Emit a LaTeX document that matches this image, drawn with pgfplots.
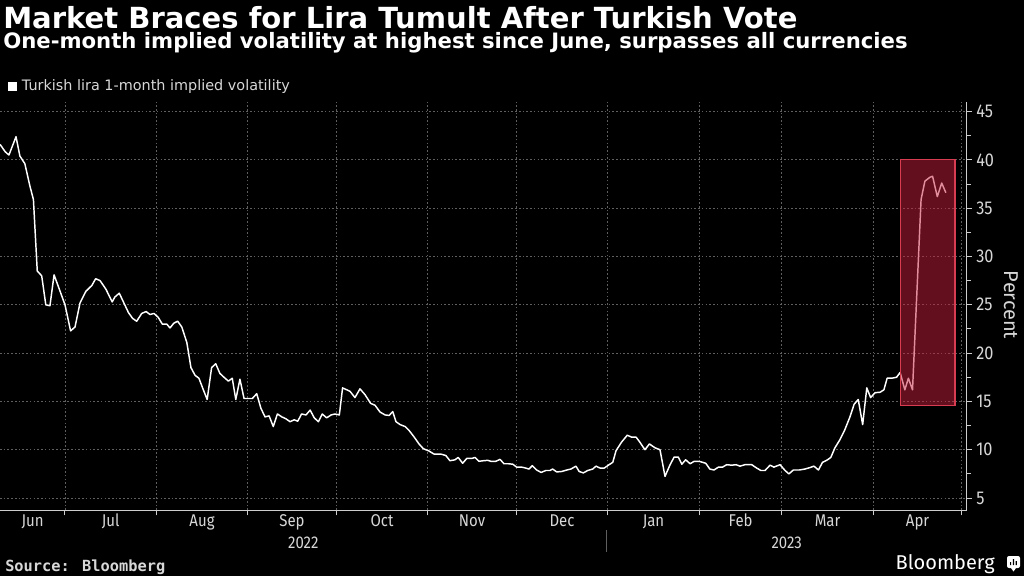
\documentclass[border=0pt]{standalone}
\usepackage{fontspec}
\setmainfont{Fira Sans}
\newfontfamily\monofam{DejaVu Sans Mono}
\newfontfamily\dvs{DejaVu Sans}
\newfontfamily\condfont{Fira Sans}[FakeStretch=0.88]
\usepackage{pgfplots}
\usepackage{pgfplotstable}
\pgfplotsset{compat=1.18}
\definecolor{txt}{RGB}{215,215,215}
\definecolor{gridc}{RGB}{95,95,95}
\definecolor{axc}{RGB}{205,205,205}
\definecolor{boxfill}{RGB}{200,30,60}
\definecolor{boxedge}{RGB}{215,60,80}

% x = days since 1 Jul 2022, v = 1-month implied volatility (%)
\pgfplotstableread{
d v
-22.0 41.6
-20.3 40.85
-19.0 40.5
-16.6 42.4
-15.3 40.4
-13.6 39.6
-11.9 37.3
-10.7 35.9
-9.4 28.5
-7.9 28.0
-6.5 25.0
-5.1 24.9
-3.7 28.1
-1.9 26.6
0.0 25.0
1.9 22.3
3.4 22.7
5.1 25.2
7.1 26.4
9.1 27.0
10.4 27.7
11.9 27.5
13.9 26.6
16.0 25.3
16.9 25.8
18.4 26.2
19.8 25.3
21.5 24.2
22.9 23.6
24.3 23.3
26.0 24.1
27.5 24.3
28.8 24.0
30.2 24.1
31.6 23.7
33.0 23.0
34.5 23.0
35.6 22.6
36.9 23.1
38.2 23.3
39.6 22.7
41.3 21.1
42.7 18.5
44.1 17.7
45.4 17.4
46.9 16.2
48.2 15.2
49.7 18.5
51.1 18.9
52.5 17.9
53.9 17.5
55.4 17.1
56.7 17.4
57.9 15.2
59.3 17.3
60.7 15.3
62.1 15.3
63.5 15.3
65.0 15.8
66.4 14.3
67.8 13.4
69.2 13.5
70.6 12.4
72.0 13.7
73.5 13.4
74.9 13.2
76.3 12.9
77.7 13.1
78.9 12.95
80.2 13.7
81.7 13.6
83.1 14.1
84.5 13.3
85.9 12.9
87.2 13.7
88.7 13.3
90.2 13.6
91.5 13.7
93.0 13.6
94.1 16.4
96.6 16.05
98.3 15.4
100.0 16.3
101.7 15.7
103.6 14.8
105.1 14.6
106.8 13.9
108.5 13.6
109.9 13.55
111.1 13.95
112.2 12.9
113.6 12.6
115.3 12.4
116.7 11.97
118.4 11.3
120.0 10.6
121.5 10.1
123.2 9.9
125.1 9.55
127.4 9.55
129.1 9.4
130.5 8.86
132.2 8.96
133.3 9.2
134.8 8.6
136.2 9.1
137.9 9.1
139.0 9.2
140.3 8.8
141.8 8.86
143.3 8.9
144.4 8.8
146.0 8.8
147.5 9.0
148.8 8.55
150.3 8.55
151.8 8.5
153.1 8.2
154.8 8.2
156.2 8.1
157.3 8.0
158.4 8.35
159.9 7.9
161.4 7.65
163.0 7.85
164.4 7.85
165.3 8.0
166.7 7.7
168.4 7.75
170.1 7.9
171.5 8.0
173.2 8.3
174.3 7.75
175.7 7.6
177.2 7.85
178.9 8.0
180.0 8.3
181.4 8.1
182.8 8.1
184.2 8.4
185.7 8.7
186.8 9.9
188.7 10.8
190.6 11.5
192.1 11.3
193.6 11.3
194.9 10.77
196.6 10.0
198.1 10.6
200.0 10.2
201.7 10.0
203.4 7.24
205.1 8.44
206.5 9.24
207.9 9.24
209.1 8.5
210.4 8.96
211.9 8.55
213.3 8.8
215.0 8.8
217.2 8.6
218.6 8.0
220.0 7.9
221.5 8.2
222.9 8.2
224.3 8.45
226.0 8.4
227.5 8.45
228.8 8.3
230.5 8.45
232.8 8.45
234.5 8.1
235.9 7.85
237.3 7.85
239.0 8.4
240.3 8.2
242.4 8.45
244.1 7.85
245.4 7.5
246.9 7.9
248.9 7.9
250.8 8.0
252.5 8.15
253.9 8.3
255.4 7.9
256.8 8.7
258.2 8.9
259.6 9.2
261.0 10.2
262.7 11.04
264.4 12.1
266.1 13.4
267.5 14.7
268.9 15.2
270.4 12.6
271.8 16.4
273.1 15.4
274.6 15.9
276.3 15.95
277.6 16.2
278.7 17.4
280.2 17.4
281.9 17.5
283.1 18.0
284.7 16.2
285.9 17.4
287.3 16.2
290.2 35.9
291.5 37.8
293.2 38.2
294.1 38.3
295.7 36.2
297.2 37.6
298.6 36.6
}\lira

\begin{document}
\begin{tikzpicture}[x=0.75pt,y=0.75pt]
\fill[black] (0,0) rectangle (1024,576);
\path[use as bounding box] (0,0) rectangle (1024,576);
\begin{axis}[
  at={(0,68.3)}, anchor=south west, scale only axis,
  width=725pt, height=305.8pt,
  xmin=-22.03, xmax=305.66, ymin=3.76, ymax=45.96,
  axis x line*=bottom, axis y line*=right,
  axis line style={axc, line width=0.75pt, -},
  xtick={0,31,62,92,123,153,184,215,243,274,304},
  xticklabels={},
  ytick={5,10,...,45},
  minor ytick={7.5,12.5,...,42.5},
  tick align=outside,
  major tick length=4pt, minor tick length=3pt,
  tick style={axc, line width=0.75pt},
  xmajorgrids, ymajorgrids,
  major grid style={gridc, dash pattern=on 1.2pt off 1.6pt, line width=0.6pt},
  /pgf/number format/assume math mode=true,
  yticklabel style={font=\condfont\fontsize{13.9}{14}\selectfont, text=txt, inner sep=0pt, xshift=3pt},
]
\addplot[white, line width=1.1pt, line join=round] table[x=d, y=v] {\lira};
\addplot[fill=boxfill, fill opacity=0.5, draw=boxedge, line width=0.8pt]
  coordinates {(283.1,14.6) (301.7,14.6) (301.7,40) (283.1,40)} -- cycle;
\end{axis}

% titles
\node[anchor=base west, inner sep=0, text depth=0pt, text=white, font=\dvs\bfseries\fontsize{21.8}{24}\selectfont] at (3,547.3) {Market Braces for Lira Tumult After Turkish Vote};
\node[anchor=base west, inner sep=0, text height=11.5pt, text=white, font=\dvs\bfseries\fontsize{15.9}{17}\selectfont] at (3,527.2) {One-month implied volatility at highest since June, surpasses all currencies};
% legend
\fill[white] (8.3,485.3) rectangle (16.7,494.3);
\node[anchor=base west, inner sep=0, text=txt, font=\dvs\fontsize{10.8}{12}\selectfont] at (21.7,485.3) {Turkish lira 1-month implied volatility};
% month labels
\foreach \xx/\mm in {32.6/Jun,110.7/Jul,202/Aug,292/Sep,382/Oct,472/Nov,562/Dec,653.5/Jan,740.6/Feb,827.6/Mar,917.6/Apr}
  \node[anchor=base, inner sep=0, text=txt, font=\condfont\fontsize{12.75}{14}\selectfont] at (\xx,49.3) {\mm};
\node[anchor=base, inner sep=0, text=txt, font=\condfont\fontsize{12.75}{14}\selectfont] at (303.3,28) {2022};
\node[anchor=base, inner sep=0, text=txt, font=\condfont\fontsize{12.75}{14}\selectfont] at (786.7,28) {2023};
\draw[gridc, line width=0.75pt] (606.7,46) -- (606.7,24.3);
% y label
\node[rotate=-90, inner sep=0, text=txt, font=\fontsize{15}{17}\selectfont] at (1011,271) {Percent};
% footer
\node[anchor=base west, inner sep=0, text=txt, font=\monofam\bfseries\fontsize{11.5}{13}\selectfont] at (5,5) {Source: Bloomberg};
\node[anchor=base east, inner sep=0, text=white, font=\fontsize{15}{17}\selectfont] at (995,7) {Bloomberg};
\fill[white, rounded corners=1.5pt] (1007,8) rectangle (1020,20);
\fill[white] (1011,8) -- (1013.5,4.5) -- (1016,8) -- cycle;
\fill[black] (1010,11) rectangle (1011.2,14) (1012.8,11) rectangle (1014,17) (1015.6,11) rectangle (1016.8,15);
\end{tikzpicture}
\end{document}
